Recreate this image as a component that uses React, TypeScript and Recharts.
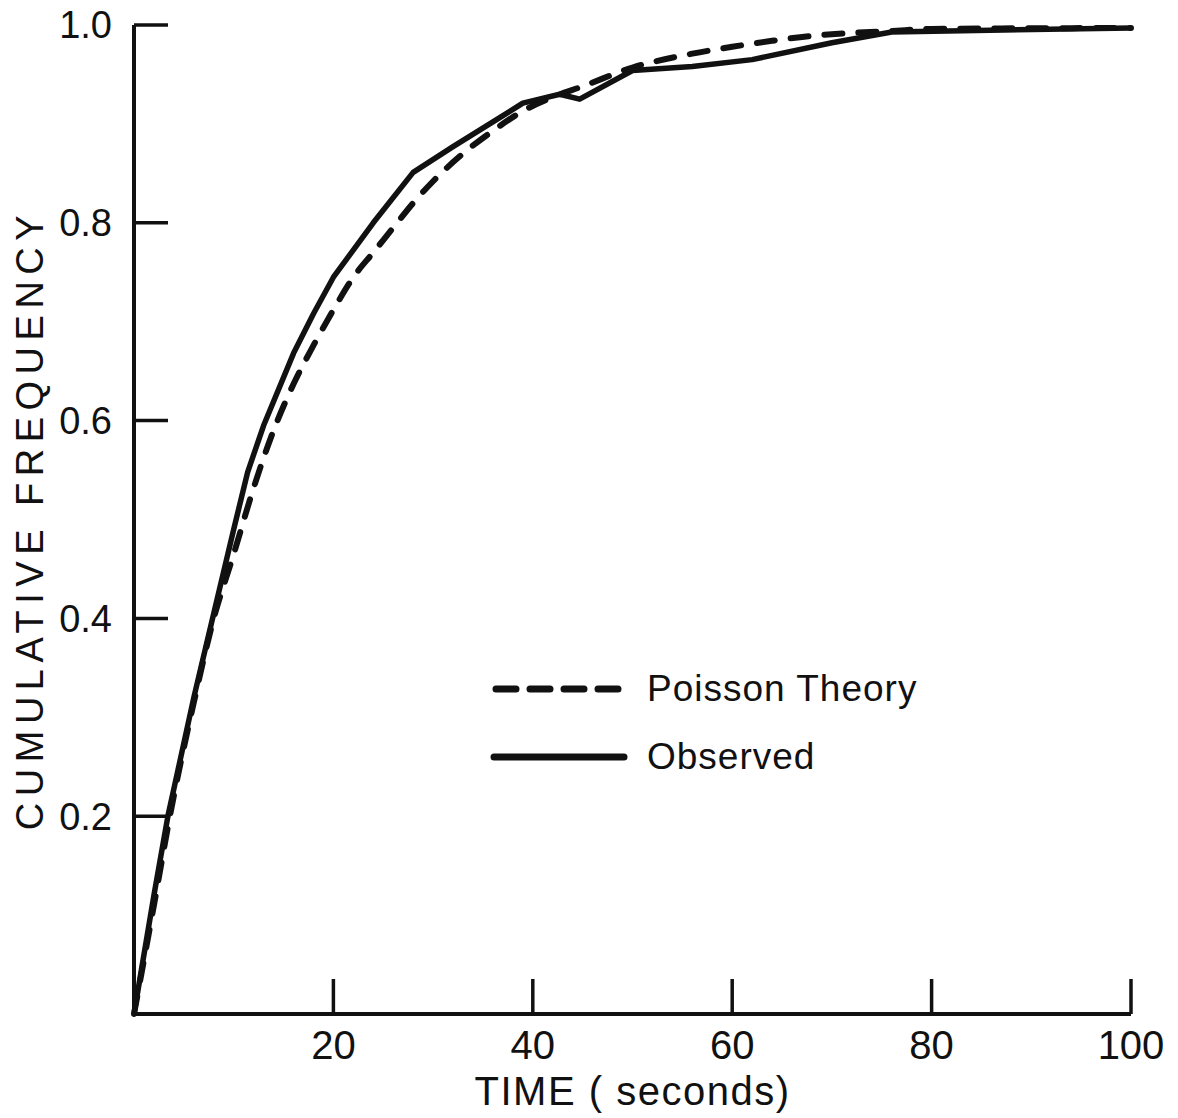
import { Legend, Line, LineChart, XAxis, YAxis } from 'recharts';

// time in seconds, cumulative frequency
const observedTime = [0, 2, 3.4, 6, 8, 10, 11.4, 13, 16, 18, 20, 24, 28, 32, 36, 39, 42.7, 44.7, 50, 56, 62, 70, 76, 100];
const observedFreq = [0, 0.12, 0.2, 0.32, 0.405, 0.49, 0.548, 0.595, 0.668, 0.708, 0.745, 0.8, 0.851, 0.877, 0.902, 0.921, 0.93, 0.925, 0.954, 0.958, 0.965, 0.982, 0.993, 0.997];

const poissonTime = [0, 2, 3.6, 6, 8, 10, 12, 14, 16, 18, 20, 22, 24, 26, 28, 30, 33, 36, 39, 42, 45, 50, 56, 60, 64, 68, 72, 76, 80, 100];
const poissonFreq = [0, 0.11, 0.2, 0.315, 0.4, 0.465, 0.532, 0.59, 0.637, 0.676, 0.712, 0.745, 0.77, 0.795, 0.82, 0.842, 0.87, 0.893, 0.913, 0.927, 0.938, 0.957, 0.971, 0.978, 0.984, 0.989, 0.992, 0.994, 0.996, 0.997];

const xTicks = [20, 40, 60, 80, 100];
const yTicks = [0.2, 0.4, 0.6, 0.8, 1.0];

const observedData = observedTime.map((t, i) => ({ t, freq: observedFreq[i] }));
const poissonData = poissonTime.map((t, i) => ({ t, freq: poissonFreq[i] }));

const INK = '#111';
const FONT = '"Liberation Sans", Arial, sans-serif';

function YTitle({ viewBox }: any) {
  const cx = viewBox.x + 30;
  const cy = viewBox.y + viewBox.height / 2;
  return (
    <text
      x={cx}
      y={cy}
      transform={`rotate(-90, ${cx}, ${cy})`}
      textAnchor="middle"
      dominantBaseline="central"
      fill={INK}
      fontSize={38}
      letterSpacing={6.5}
      fontFamily={FONT}
    >
      CUMULATIVE FREQUENCY
    </text>
  );
}

function LegendBox() {
  return (
    <div style={{ fontFamily: FONT, color: INK }}>
      <div style={{ display: 'flex', alignItems: 'center', height: 68 }}>
        <svg width={140} height={12}>
          <line x1={6} y1={6} x2={132} y2={6} stroke={INK} strokeWidth={7} strokeDasharray="20 14" strokeLinecap="round" />
        </svg>
        <span style={{ fontSize: 37, letterSpacing: 1, marginLeft: 17 }}>Poisson Theory</span>
      </div>
      <div style={{ display: 'flex', alignItems: 'center', height: 68 }}>
        <svg width={140} height={12}>
          <line x1={4} y1={6} x2={134} y2={6} stroke={INK} strokeWidth={7} strokeLinecap="round" />
        </svg>
        <span style={{ fontSize: 37, letterSpacing: 1, marginLeft: 17 }}>Observed</span>
      </div>
    </div>
  );
}

export default function App() {
  return (
    <div style={{ position: 'absolute', left: 0, top: 0, background: '#fff' }}>
      <LineChart width={1178} height={1118} margin={{ top: 25, right: 47, left: 0, bottom: 0 }}>
        <XAxis
          type="number"
          dataKey="t"
          domain={[0, 100]}
          ticks={xTicks}
          allowDuplicatedCategory={false}
          height={104}
          axisLine={{ stroke: INK, strokeWidth: 4 }}
          tickLine={{ stroke: INK, strokeWidth: 3.5 }}
          tickSize={-35}
          tickMargin={52}
          tick={{ fill: INK, fontSize: 40, fontFamily: FONT }}
          label={{ value: 'TIME ( seconds)', position: 'insideBottom', offset: 13, fill: INK, fontSize: 40, fontFamily: FONT, letterSpacing: 1.5 }}
        />
        <YAxis
          type="number"
          domain={[0, 1]}
          ticks={yTicks}
          width={134}
          axisLine={{ stroke: INK, strokeWidth: 4 }}
          tickLine={{ stroke: INK, strokeWidth: 3.5 }}
          tickSize={-34}
          tickMargin={56}
          tickFormatter={(v: number) => v.toFixed(1)}
          tick={{ fill: INK, fontSize: 38, fontFamily: FONT }}
          label={{ content: YTitle }}
        />
        <Legend
          layout="vertical"
          align="center"
          verticalAlign="middle"
          wrapperStyle={{ left: 490, top: 655, width: 460 }}
          content={() => <LegendBox />}
        />
        <Line
          data={poissonData}
          dataKey="freq"
          type="monotone"
          stroke={INK}
          strokeWidth={6}
          strokeDasharray="18 16"
          strokeLinecap="round"
          dot={false}
          isAnimationActive={false}
        />
        <Line
          data={observedData}
          dataKey="freq"
          type="linear"
          stroke={INK}
          strokeWidth={5.5}
          strokeLinejoin="round"
          dot={false}
          isAnimationActive={false}
        />
      </LineChart>
    </div>
  );
}
